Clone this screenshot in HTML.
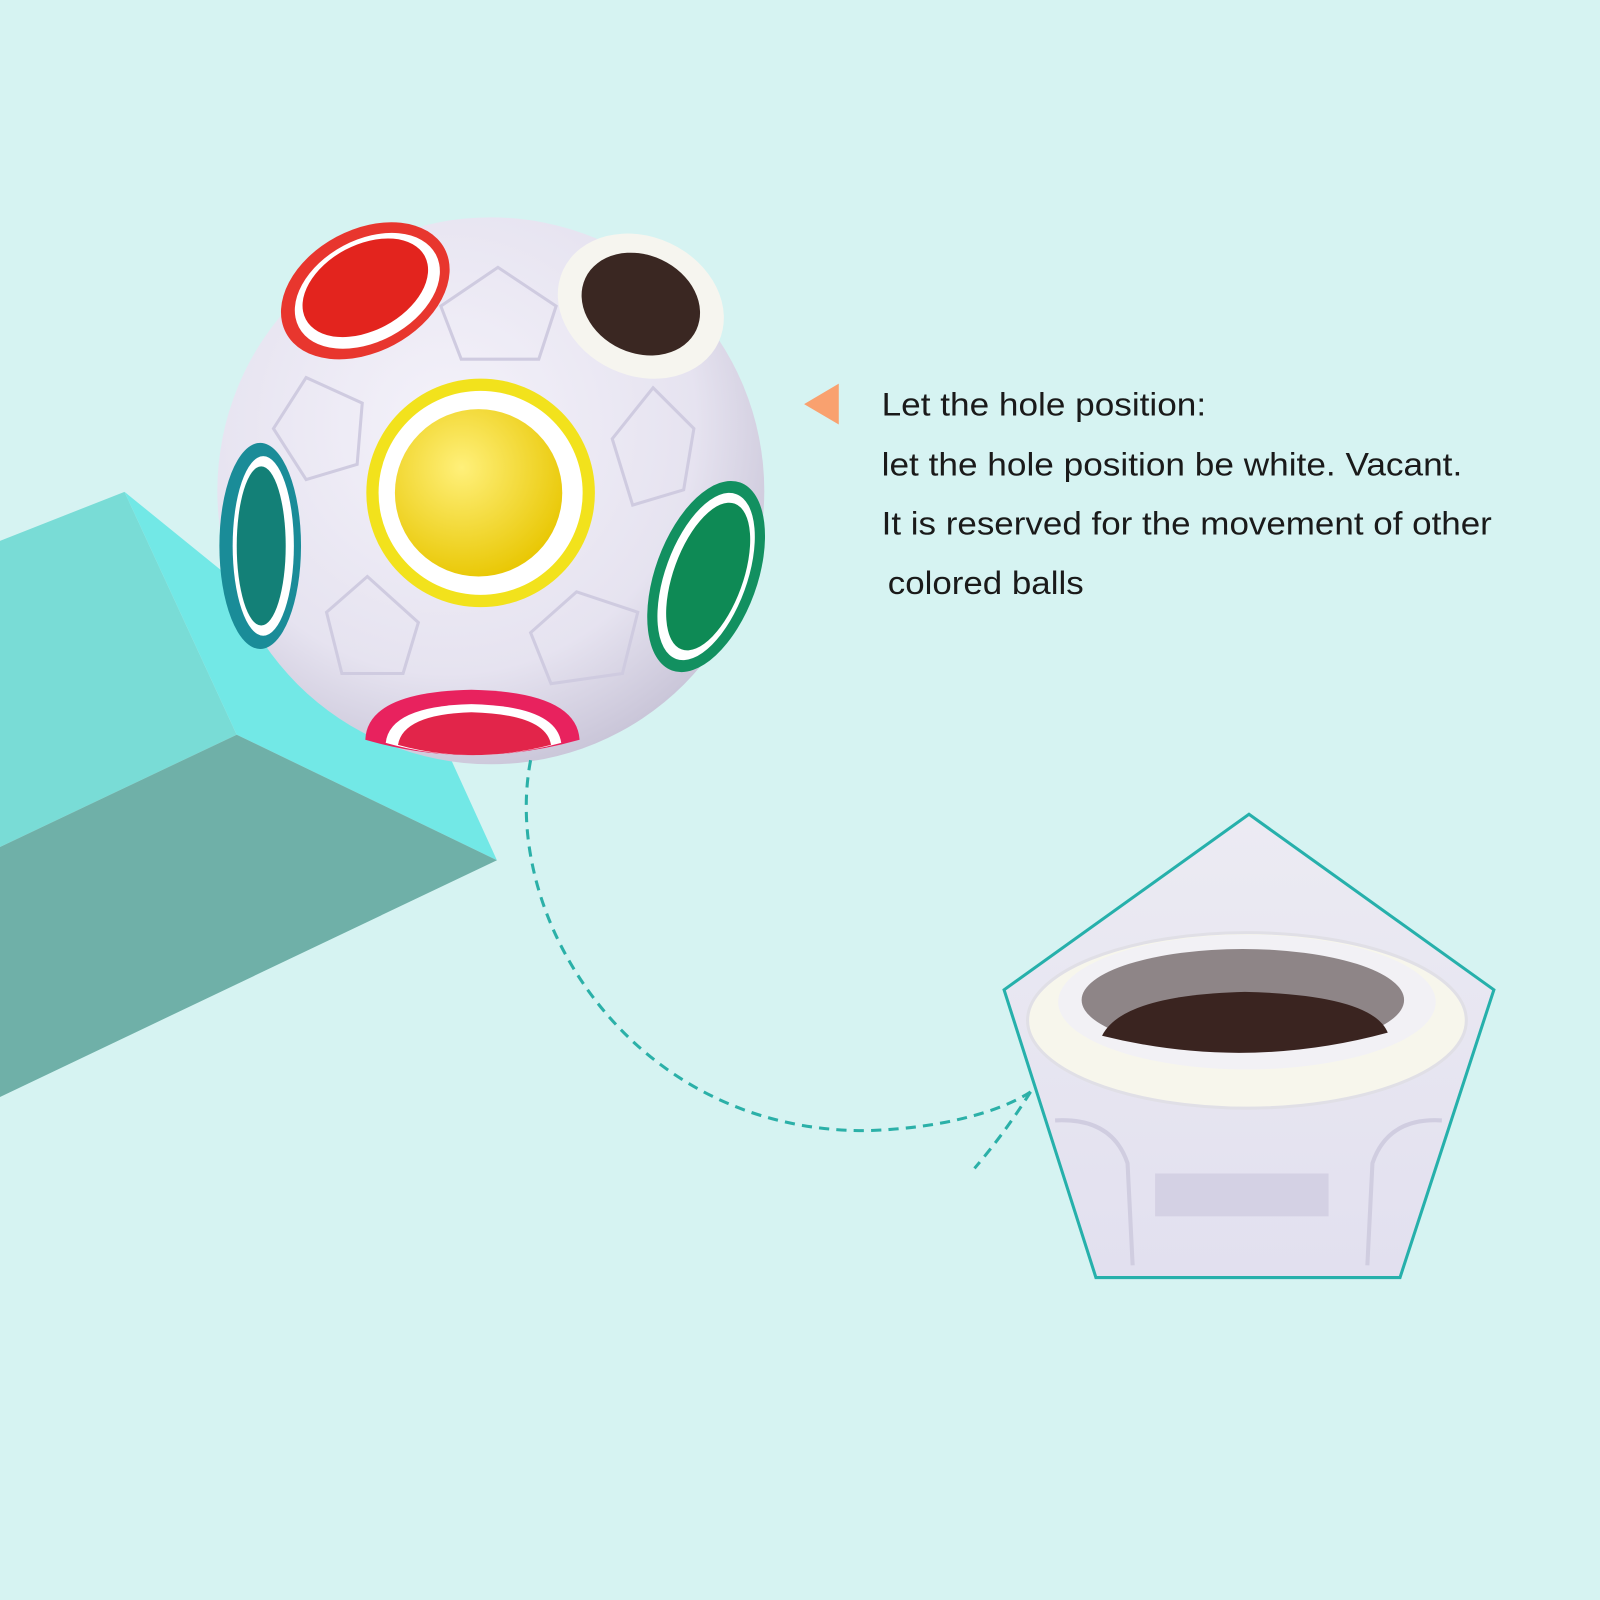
<!DOCTYPE html>
<html><head><style>html,body{margin:0;padding:0;background:#d6f3f2;}svg{display:block}</style></head>
<body>
<svg width="1600" height="1600" viewBox="0 0 1568 1568" xmlns="http://www.w3.org/2000/svg">
<defs>
<radialGradient id="ball" cx="0.42" cy="0.38" r="0.65">
<stop offset="0" stop-color="#f4f2fa"/><stop offset="0.7" stop-color="#e6e3f0"/><stop offset="1" stop-color="#c9c5d8"/></radialGradient>
<radialGradient id="yel" cx="0.4" cy="0.35" r="0.7"><stop offset="0" stop-color="#fff07a"/><stop offset="1" stop-color="#e8c600"/></radialGradient>
<linearGradient id="pent" x1="0" y1="0" x2="0" y2="1"><stop offset="0" stop-color="#ecebf3"/><stop offset="1" stop-color="#e2e0ef"/></linearGradient>
</defs>
<rect width="1568" height="1568" fill="#d6f3f2"/>
<polygon points="0,530 122,482 232,720 0,830" fill="#79dcd6"/>
<polygon points="122,482 440,740 487,843 232,720" fill="#72e8e6"/>
<polygon points="0,830 232,720 487,843 0,1075" fill="#6fb0a8"/>
<circle cx="481" cy="481" r="268" fill="url(#ball)"/>
<g fill="none" stroke="#cfcbe0" stroke-width="3">
<polygon points="488,262 545,300 528,352 452,352 432,300"/>
<polygon points="300,370 355,395 350,455 300,470 268,420"/>
<polygon points="640,380 680,420 670,480 620,495 600,430"/>
<polygon points="360,565 410,610 395,660 335,660 320,600"/>
<polygon points="565,580 625,600 610,660 540,670 520,620"/>
</g>
<ellipse cx="358" cy="285" rx="88" ry="60" transform="rotate(-28 358 285)" fill="#e8362e"/>
<ellipse cx="360" cy="285" rx="76" ry="50" transform="rotate(-28 360 285)" fill="#fff"/>
<ellipse cx="358" cy="282" rx="66" ry="42" transform="rotate(-28 358 282)" fill="#e3241e"/>
<ellipse cx="628" cy="300" rx="84" ry="68" transform="rotate(25 628 300)" fill="#f6f5ef"/>
<ellipse cx="628" cy="298" rx="60" ry="48" transform="rotate(25 628 298)" fill="#3a2722"/>
<ellipse cx="255" cy="535" rx="40" ry="101" fill="#1a8c98"/>
<ellipse cx="258" cy="535" rx="30" ry="88" fill="#fff"/>
<ellipse cx="256" cy="535" rx="24" ry="78" fill="#138077"/>
<ellipse cx="692" cy="565" rx="50" ry="98" transform="rotate(20 692 565)" fill="#129060"/>
<ellipse cx="692" cy="565" rx="40" ry="86" transform="rotate(20 692 565)" fill="#fff"/>
<ellipse cx="694" cy="565" rx="34" ry="76" transform="rotate(20 694 565)" fill="#0e8a55"/>
<path d="M358,725 Q360,678 462,676 Q565,678 568,725 Q462,755 358,725Z" fill="#e8225e"/>
<path d="M378,728 Q382,692 462,690 Q545,692 550,728 Q462,752 378,728Z" fill="#fff"/>
<path d="M390,730 Q395,700 462,698 Q535,700 540,730 Q462,750 390,730Z" fill="#e2254a"/>
<circle cx="471" cy="483" r="112" fill="#f2e21c"/>
<circle cx="471" cy="483" r="100" fill="#fff"/>
<circle cx="469" cy="483" r="82" fill="url(#yel)"/>
<polygon points="788,396 822,376 822,416" fill="#f9a16f"/>
<g font-family="Liberation Sans, sans-serif" font-size="32" fill="#1a1a1a">
<text x="864" y="407" textLength="318" lengthAdjust="spacingAndGlyphs">Let the hole position:</text>
<text x="864" y="466" textLength="569" lengthAdjust="spacingAndGlyphs">let the hole position be white. Vacant.</text>
<text x="864" y="524" textLength="598" lengthAdjust="spacingAndGlyphs">It is reserved for the movement of other</text>
<text x="870" y="582" textLength="192" lengthAdjust="spacingAndGlyphs">colored balls</text>
</g>
<path d="M520,745 C490,900 620,1110 850,1108 C920,1106 980,1090 1010,1070" fill="none" stroke="#2bb0a8" stroke-width="3" stroke-dasharray="10,7"/>
<path d="M1010,1070 Q985,1110 955,1145" fill="none" stroke="#2bb0a8" stroke-width="3" stroke-dasharray="10,7"/>
<polygon points="1224,798 1464,970 1372,1252 1074,1252 984,970" fill="url(#pent)" stroke="#26b0ab" stroke-width="3"/>
<ellipse cx="1222" cy="1000" rx="215" ry="86" fill="#f7f6ec" stroke="#e0dfe6" stroke-width="3"/>
<ellipse cx="1222" cy="982" rx="185" ry="66" fill="#f2f1f5"/>
<ellipse cx="1218" cy="980" rx="158" ry="50" fill="#8e8587"/>
<path d="M1080,1015 Q1100,975 1220,972 Q1345,975 1360,1012 Q1220,1050 1080,1015Z" fill="#3a2420"/>
<rect x="1132" y="1150" width="170" height="42" fill="#d4d1e4"/>
<path d="M1034,1098 Q1090,1095 1105,1140 L1110,1240 M1413,1098 Q1360,1095 1345,1140 L1340,1240" fill="none" stroke="#d0cde0" stroke-width="4"/>
</svg>
</body></html>
